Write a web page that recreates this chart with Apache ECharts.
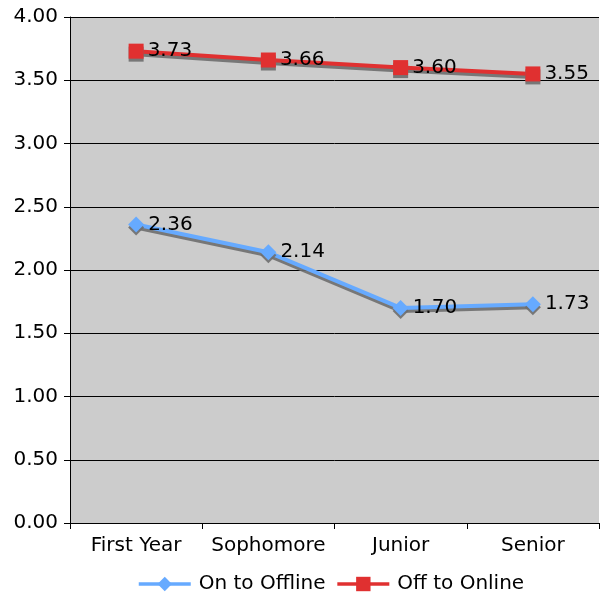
<!DOCTYPE html>
<html>
<head>
<meta charset="utf-8">
<script src="https://cdn.jsdelivr.net/npm/echarts@6/dist/echarts.min.js"></script>
<style>
html, body { margin: 0; padding: 0; background: #fff; }
#chart { width: 600px; height: 596px; }
</style>
</head>
<body>
<div id="chart"></div>
<script>
var categories = ['First Year', 'Sophomore', 'Junior', 'Senior'];
var onToOffline = [2.36, 2.14, 1.70, 1.73];
var offToOnline = [3.73, 3.66, 3.60, 3.55];

var myChart = echarts.init(document.getElementById('chart'));
var font = 'DejaVu Sans, Verdana, sans-serif';

function lineSeries(name, data, color, symbol, size) {
    return {
        name: name,
        type: 'line',
        data: data,
        symbol: symbol,
        symbolSize: size,
        showAllSymbol: true,
        itemStyle: { color: color, shadowColor: 'rgba(110,110,110,0.9)', shadowOffsetY: 3, shadowBlur: 0 },
        lineStyle: { color: color, width: 4, shadowColor: 'rgba(110,110,110,0.9)', shadowOffsetY: 3, shadowBlur: 0 },
        label: {
            show: true,
            position: 'right',
            distance: 4,
            color: '#000',
            fontFamily: font,
            fontSize: 20,
            formatter: function (p) { return p.value.toFixed(2); }
        },
        emphasis: { disabled: true },
        animation: false
    };
}

var option = {
    backgroundColor: '#fff',
    textStyle: { fontFamily: font },
    grid: { left: 70, right: 1, top: 17, bottom: 73, show: true, backgroundColor: '#cccccc', borderWidth: 0 },
    legend: {
        top: 569,
        left: 132,
        itemWidth: 52,
        itemHeight: 18,
        itemGap: 10,
        lineStyle: { width: 3.5, shadowBlur: 0, shadowOffsetY: 0 },
        itemStyle: { shadowBlur: 0, shadowOffsetY: 0 },
        textStyle: { fontFamily: font, fontSize: 20, color: '#000', padding: [0, 0, 0, 3] },
        data: ['On to Offline', 'Off to Online']
    },
    xAxis: {
        type: 'category',
        data: categories,
        boundaryGap: true,
        axisLine: { lineStyle: { color: '#000', width: 1 } },
        axisTick: { show: true, interval: 0, length: 6, lineStyle: { color: '#000' } },
        axisLabel: { interval: 0, color: '#000', fontSize: 20, fontFamily: font, margin: 13 }
    },
    yAxis: {
        type: 'value',
        min: 0,
        max: 4,
        interval: 0.5,
        axisLine: { show: true, lineStyle: { color: '#000', width: 1 } },
        axisTick: { show: true, length: 6, lineStyle: { color: '#000' } },
        axisLabel: {
            color: '#000', fontSize: 20, fontFamily: font, margin: 12,
            formatter: function (v) { return v.toFixed(2); }
        },
        splitLine: { show: true, lineStyle: { color: '#000', width: 1 } }
    },
    series: [
        lineSeries('On to Offline', onToOffline, '#66aaff', 'diamond', 16),
        lineSeries('Off to Online', offToOnline, '#e03030', 'rect', 15)
    ]
};
myChart.setOption(option);
</script>
</body>
</html>
